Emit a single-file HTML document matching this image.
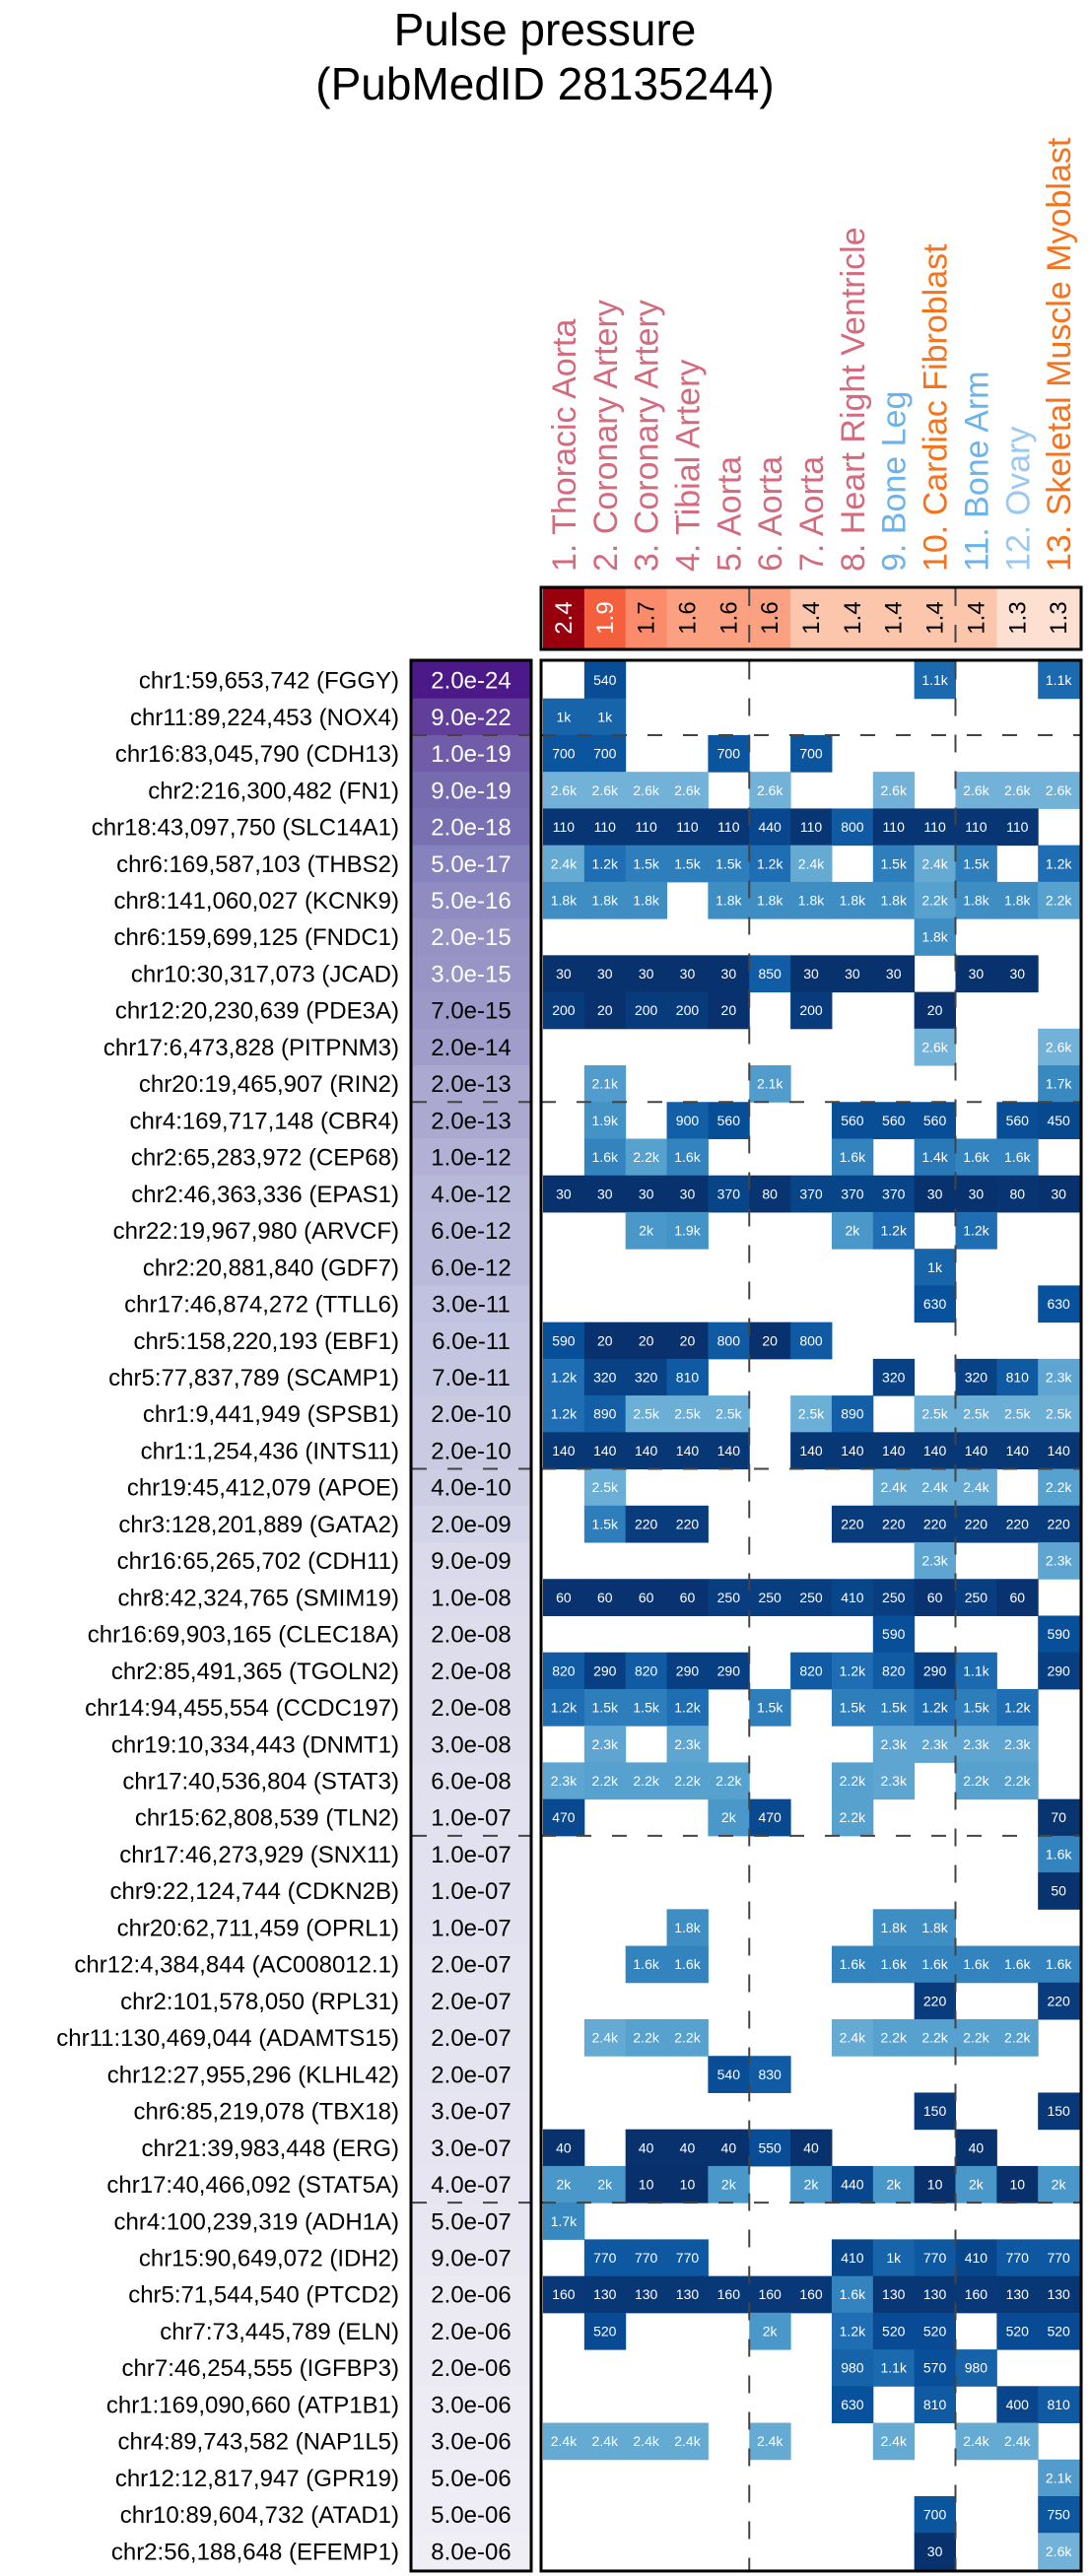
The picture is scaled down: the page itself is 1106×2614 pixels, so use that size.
<!DOCTYPE html>
<html><head><meta charset="utf-8"><style>
html,body{margin:0;padding:0;background:#fff;}
svg{display:block;font-family:"Liberation Sans",Arial,sans-serif;}
</style></head><body>
<svg id="chart" width="1106" height="2614" viewBox="0 0 1106 2614" xmlns="http://www.w3.org/2000/svg">
<text x="553" y="46" font-size="46" text-anchor="middle">Pulse pressure</text>
<text x="553" y="101" font-size="46" text-anchor="middle">(PubMedID 28135244)</text>
<g id="g"></g>
</svg>
<script>
const tissues=["1. Thoracic Aorta","2. Coronary Artery","3. Coronary Artery","4. Tibial Artery","5. Aorta","6. Aorta","7. Aorta","8. Heart Right Ventricle","9. Bone Leg","10. Cardiac Fibroblast","11. Bone Arm","12. Ovary","13. Skeletal Muscle Myoblast"];
const tissueColors=["#d46a7e","#d46a7e","#d46a7e","#d46a7e","#d46a7e","#d46a7e","#d46a7e","#d46a7e","#6bb3e8","#f4731c","#6bb3e8","#9ac8f0","#f4731c"];
const headerValues=[2.4,1.9,1.7,1.6,1.6,1.6,1.4,1.4,1.4,1.4,1.4,1.3,1.3];
const headerFills=["#99000d","#f4603e","#fb8b6a","#fca082","#fca082","#fca082","#fcc6ac","#fcc6ac","#fcc6ac","#fcc6ac","#fcc6ac","#fee0d2","#fee0d2"];
const genes=["chr1:59,653,742 (FGGY)","chr11:89,224,453 (NOX4)","chr16:83,045,790 (CDH13)","chr2:216,300,482 (FN1)","chr18:43,097,750 (SLC14A1)","chr6:169,587,103 (THBS2)","chr8:141,060,027 (KCNK9)","chr6:159,699,125 (FNDC1)","chr10:30,317,073 (JCAD)","chr12:20,230,639 (PDE3A)","chr17:6,473,828 (PITPNM3)","chr20:19,465,907 (RIN2)","chr4:169,717,148 (CBR4)","chr2:65,283,972 (CEP68)","chr2:46,363,336 (EPAS1)","chr22:19,967,980 (ARVCF)","chr2:20,881,840 (GDF7)","chr17:46,874,272 (TTLL6)","chr5:158,220,193 (EBF1)","chr5:77,837,789 (SCAMP1)","chr1:9,441,949 (SPSB1)","chr1:1,254,436 (INTS11)","chr19:45,412,079 (APOE)","chr3:128,201,889 (GATA2)","chr16:65,265,702 (CDH11)","chr8:42,324,765 (SMIM19)","chr16:69,903,165 (CLEC18A)","chr2:85,491,365 (TGOLN2)","chr14:94,455,554 (CCDC197)","chr19:10,334,443 (DNMT1)","chr17:40,536,804 (STAT3)","chr15:62,808,539 (TLN2)","chr17:46,273,929 (SNX11)","chr9:22,124,744 (CDKN2B)","chr20:62,711,459 (OPRL1)","chr12:4,384,844 (AC008012.1)","chr2:101,578,050 (RPL31)","chr11:130,469,044 (ADAMTS15)","chr12:27,955,296 (KLHL42)","chr6:85,219,078 (TBX18)","chr21:39,983,448 (ERG)","chr17:40,466,092 (STAT5A)","chr4:100,239,319 (ADH1A)","chr15:90,649,072 (IDH2)","chr5:71,544,540 (PTCD2)","chr7:73,445,789 (ELN)","chr7:46,254,555 (IGFBP3)","chr1:169,090,660 (ATP1B1)","chr4:89,743,582 (NAP1L5)","chr12:12,817,947 (GPR19)","chr10:89,604,732 (ATAD1)","chr2:56,188,648 (EFEMP1)"];
const pvalues=["2.0e-24","9.0e-22","1.0e-19","9.0e-19","2.0e-18","5.0e-17","5.0e-16","2.0e-15","3.0e-15","7.0e-15","2.0e-14","2.0e-13","2.0e-13","1.0e-12","4.0e-12","6.0e-12","6.0e-12","3.0e-11","6.0e-11","7.0e-11","2.0e-10","2.0e-10","4.0e-10","2.0e-09","9.0e-09","1.0e-08","2.0e-08","2.0e-08","2.0e-08","3.0e-08","6.0e-08","1.0e-07","1.0e-07","1.0e-07","1.0e-07","2.0e-07","2.0e-07","2.0e-07","2.0e-07","3.0e-07","3.0e-07","4.0e-07","5.0e-07","9.0e-07","2.0e-06","2.0e-06","2.0e-06","3.0e-06","3.0e-06","5.0e-06","5.0e-06","8.0e-06"];
const _=null;
const values=[
[_,540,_,_,_,_,_,_,_,1100,_,_,1100],
[1000,1000,_,_,_,_,_,_,_,_,_,_,_],
[700,700,_,_,700,_,700,_,_,_,_,_,_],
[2600,2600,2600,2600,_,2600,_,_,2600,_,2600,2600,2600],
[110,110,110,110,110,440,110,800,110,110,110,110,_],
[2400,1200,1500,1500,1500,1200,2400,_,1500,2400,1500,_,1200],
[1800,1800,1800,_,1800,1800,1800,1800,1800,2200,1800,1800,2200],
[_,_,_,_,_,_,_,_,_,1800,_,_,_],
[30,30,30,30,30,850,30,30,30,_,30,30,_],
[200,20,200,200,20,_,200,_,_,20,_,_,_],
[_,_,_,_,_,_,_,_,_,2600,_,_,2600],
[_,2100,_,_,_,2100,_,_,_,_,_,_,1700],
[_,1900,_,900,560,_,_,560,560,560,_,560,450],
[_,1600,2200,1600,_,_,_,1600,_,1400,1600,1600,_],
[30,30,30,30,370,80,370,370,370,30,30,80,30],
[_,_,2000,1900,_,_,_,2000,1200,_,1200,_,_],
[_,_,_,_,_,_,_,_,_,1000,_,_,_],
[_,_,_,_,_,_,_,_,_,630,_,_,630],
[590,20,20,20,800,20,800,_,_,_,_,_,_],
[1200,320,320,810,_,_,_,_,320,_,320,810,2300],
[1200,890,2500,2500,2500,_,2500,890,_,2500,2500,2500,2500],
[140,140,140,140,140,_,140,140,140,140,140,140,140],
[_,2500,_,_,_,_,_,_,2400,2400,2400,_,2200],
[_,1500,220,220,_,_,_,220,220,220,220,220,220],
[_,_,_,_,_,_,_,_,_,2300,_,_,2300],
[60,60,60,60,250,250,250,410,250,60,250,60,_],
[_,_,_,_,_,_,_,_,590,_,_,_,590],
[820,290,820,290,290,_,820,1200,820,290,1100,_,290],
[1200,1500,1500,1200,_,1500,_,1500,1500,1200,1500,1200,_],
[_,2300,_,2300,_,_,_,_,2300,2300,2300,2300,_],
[2300,2200,2200,2200,2200,_,_,2200,2300,_,2200,2200,_],
[470,_,_,_,2000,470,_,2200,_,_,_,_,70],
[_,_,_,_,_,_,_,_,_,_,_,_,1600],
[_,_,_,_,_,_,_,_,_,_,_,_,50],
[_,_,_,1800,_,_,_,_,1800,1800,_,_,_],
[_,_,1600,1600,_,_,_,1600,1600,1600,1600,1600,1600],
[_,_,_,_,_,_,_,_,_,220,_,_,220],
[_,2400,2200,2200,_,_,_,2400,2200,2200,2200,2200,_],
[_,_,_,_,540,830,_,_,_,_,_,_,_],
[_,_,_,_,_,_,_,_,_,150,_,_,150],
[40,_,40,40,40,550,40,_,_,_,40,_,_],
[2000,2000,10,10,2000,_,2000,440,2000,10,2000,10,2000],
[1700,_,_,_,_,_,_,_,_,_,_,_,_],
[_,770,770,770,_,_,_,410,1000,770,410,770,770],
[160,130,130,130,160,160,160,1600,130,130,160,130,130],
[_,520,_,_,_,2000,_,1200,520,520,_,520,520],
[_,_,_,_,_,_,_,980,1100,570,980,_,_],
[_,_,_,_,_,_,_,630,_,810,_,400,810],
[2400,2400,2400,2400,_,2400,_,_,2400,_,2400,2400,_],
[_,_,_,_,_,_,_,_,_,_,_,_,2100],
[_,_,_,_,_,_,_,_,_,700,_,_,750],
[_,_,_,_,_,_,_,_,_,30,_,_,2600]
];
const groupBreaks=[2,12,22,32,42];
const colBreaks=[5,10];

const NS="http://www.w3.org/2000/svg";
const g=document.getElementById('g');
const X0=551,CW=41.85,Y0=671.5,RH=37.23,HX0=549,HX1=1097;
const xCol=i=>X0+i*CW;
const yRow=r=>Y0+r*RH;
function el(t,a,txt){const e=document.createElementNS(NS,t);for(const k in a)e.setAttribute(k,a[k]);if(txt!=null)e.textContent=txt;g.appendChild(e);return e;}
function hex(h){return [parseInt(h.slice(1,3),16),parseInt(h.slice(3,5),16),parseInt(h.slice(5,7),16)];}
function pal(stops,t){t=Math.max(0,Math.min(1,t));const n=stops.length-1;const i=Math.min(n-1,Math.floor(t*n));const f=t*n-i;const a=hex(stops[i]),b=hex(stops[i+1]);return 'rgb('+a.map((v,k)=>Math.round(v+(b[k]-v)*f)).join(',')+')';}
const blues=["#f7fbff","#deebf7","#c6dbef","#9ecae1","#6baed6","#4292c6","#2171b5","#08519c","#08306b"];
const purples=["#fcfbfd","#efedf5","#dadaeb","#bcbddc","#9e9ac8","#807dba","#6a51a3","#54278f","#3f007d"];
function fmt(v){return v>=1000?(Math.round(v/100)/10)+'k':String(v);}

tissues.forEach((t,i)=>{
  const cx=xCol(i)+CW/2+12;
  const e=el('text',{x:cx,y:580,'font-size':34,fill:tissueColors[i],transform:'rotate(-90 '+cx+' 580)'},t);
  
  
});
headerValues.forEach((v,i)=>{
  const r=el('rect',{x:xCol(i),y:597,width:CW+0.5,height:61,fill:headerFills[i]});
  
  
  const cx=xCol(i)+CW/2+8, cy=627;
  const t=el('text',{x:cx,y:cy,'font-size':24,'text-anchor':'middle',fill:v>=1.9?'#fff':'#000',transform:'rotate(-90 '+cx+' '+cy+')'},v.toFixed(1));
  
  
});
colBreaks.forEach(c=>{const l=el('line',{x1:xCol(c),x2:xCol(c),y1:597,y2:658,stroke:'#444','stroke-width':2,'stroke-dasharray':'18,19'});});
const hb=el('rect',{x:HX0,y:596,width:HX1-HX0,height:63,fill:'none',stroke:'#000','stroke-width':3});



const lp=pvalues.map(p=>-Math.log10(parseFloat(p)));
const lmax=Math.max(...lp),lmin=Math.min(...lp);
genes.forEach((gn,r)=>{
  const yc=yRow(r)+RH/2;
  const gl=el('text',{x:405,y:yc+8.5,'font-size':24,'text-anchor':'end',fill:'#000'},gn);
  
  
  const t=(lp[r]-lmin)/(lmax-lmin);
  const pos=0.12+t*0.8;
  const pr=el('rect',{x:418,y:yRow(r),width:120,height:RH+0.5,fill:pal(purples,pos)});
  
  
  const pt=el('text',{x:478,y:yc+8.5,'font-size':24,'text-anchor':'middle',fill:pos>0.525?'#fff':'#000'},pvalues[r]);
  
  
  values[r].forEach((v,c)=>{
    if(v==null)return;
    const cr=el('rect',{x:xCol(c),y:yRow(r),width:CW+0.5,height:RH+0.5,fill:pal(blues,1-v/2600*0.52)});
    
    
    const ct=el('text',{x:xCol(c)+CW/2,y:yc+5,'font-size':14,'text-anchor':'middle',fill:'#fff'},fmt(v));
    
    
  });
});
const yEnd=yRow(genes.length);
colBreaks.forEach(c=>{const l=el('line',{x1:xCol(c),x2:xCol(c),y1:Y0,y2:yEnd,stroke:'#444','stroke-width':2,'stroke-dasharray':'18,19'});});
groupBreaks.forEach(b=>{
  const y=yRow(b);
  const l1=el('line',{x1:418,x2:538,y1:y,y2:y,stroke:'#444','stroke-width':2,'stroke-dasharray':'15,21'});
  
  
  const l2=el('line',{x1:HX0,x2:HX1,y1:y,y2:y,stroke:'#444','stroke-width':2,'stroke-dasharray':'15,21'});
  
  
});
const pb=el('rect',{x:417,y:Y0-1.5,width:122,height:yEnd-Y0+3,fill:'none',stroke:'#000','stroke-width':3});


const db=el('rect',{x:HX0,y:Y0-1.5,width:HX1-HX0,height:yEnd-Y0+3,fill:'none',stroke:'#000','stroke-width':3});


</script>
</body></html>
